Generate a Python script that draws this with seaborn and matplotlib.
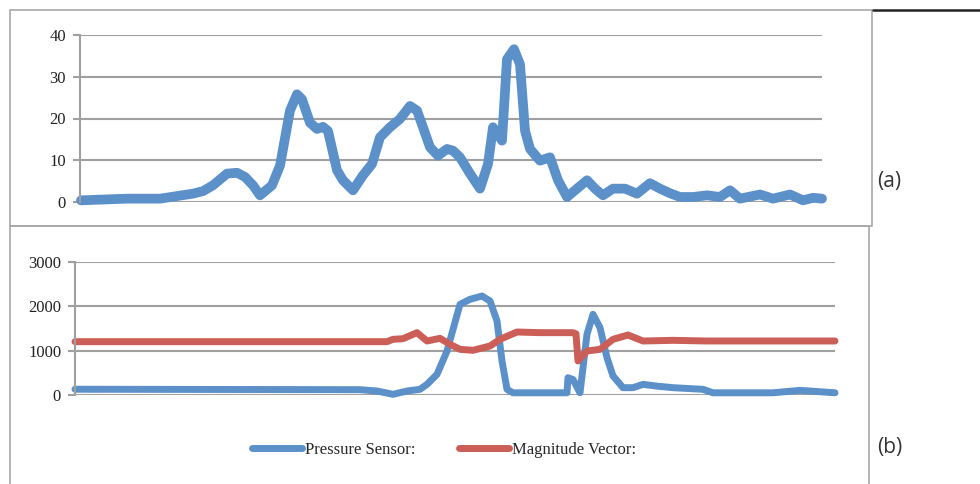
import numpy as np
import pandas as pd
import matplotlib
matplotlib.use("Agg")
import matplotlib.pyplot as plt
import seaborn as sns
from matplotlib.patches import Rectangle
from matplotlib.lines import Line2D

# panel (a): sample index and value
top_t = [1, 47, 80, 113, 123, 133, 147, 157, 165, 173, 180, 192, 200, 210, 217, 222,
         230, 237, 243, 248, 257, 263, 273, 283, 292, 300, 310, 320, 330, 337, 343,
         350, 358, 367, 373, 380, 390, 400, 408, 413, 422, 427, 434, 440, 445, 450,
         460, 470, 478, 487, 497, 507, 515, 523, 533, 545, 557, 570, 580, 590, 600,
         613, 627, 640, 650, 660, 680, 693, 710, 723, 733, 742]
top_val = [0.4, 0.8, 0.8, 2.0, 2.6, 4.0, 6.8, 7.0, 6.0, 4.0, 1.6, 4.0, 8.7, 21.9,
           25.8, 24.6, 19.0, 17.5, 18.0, 17.0, 7.6, 5.2, 2.8, 6.4, 9.1, 15.5, 17.9,
           19.9, 23.0, 21.9, 17.9, 13.1, 11.1, 12.7, 12.3, 10.7, 6.8, 3.2, 9.1, 17.9,
           14.7, 34.2, 36.6, 33.0, 17.1, 12.7, 9.9, 10.7, 5.2, 1.2, 3.2, 5.2, 3.2,
           1.6, 3.2, 3.2, 2.0, 4.5, 3.2, 2.1, 1.2, 1.2, 1.6, 1.2, 2.8, 0.8, 1.8, 0.8,
           1.8, 0.4, 1.0, 0.8]

# panel (b): sample index for each series
pres_t = [0, 285, 302, 318, 332, 345, 352, 362, 372, 385, 395, 407, 415, 422, 427,
          432, 438, 465, 492, 493, 498, 505, 512, 518, 525, 532, 538, 548, 558, 568,
          582, 598, 628, 638, 665, 698, 725, 760]
pres_val = [130, 120, 90, 15, 90, 128, 240, 466, 990, 2045, 2158, 2233, 2120, 1670,
            767, 128, 50, 50, 50, 390, 350, 50, 1370, 1820, 1520, 840, 430, 165, 165,
            240, 200, 165, 128, 50, 50, 50, 105, 50]
mag_t = [0, 312, 318, 328, 342, 352, 365, 375, 385, 398, 415, 425, 442, 465, 498,
         501, 503, 512, 525, 538, 553, 568, 598, 632, 760]
mag_val = [1203, 1203, 1256, 1270, 1406, 1218, 1278, 1143, 1030, 1008, 1105, 1256,
           1421, 1406, 1406, 1380, 767, 993, 1030, 1256, 1353, 1218, 1233, 1218, 1218]

blue = "#5B90C8"
red = "#CB5F57"
grid_c = "#A0A0A0"

top_df = pd.DataFrame({"t": top_t, "v": top_val})
pres_df = pd.DataFrame({"t": pres_t, "v": pres_val})
mag_df = pd.DataFrame({"t": mag_t, "v": mag_val})

sns.set_theme(style="white")
plt.rcParams["font.family"] = ["Liberation Serif", "DejaVu Serif"]

W, H = 980, 484
fig = plt.figure(figsize=(9.8, 4.84), dpi=100)


def px_axes(x0, y0, x1, y1):
    return fig.add_axes([x0 / W, 1 - y1 / H, (x1 - x0) / W, (y1 - y0) / H])


# outer frames
fig.patches.append(Rectangle((10 / W, 1 - 226 / H), 862 / W, 216 / H,
                             transform=fig.transFigure, fill=False,
                             edgecolor="#A8A8A8", lw=1.2))
fig.patches.append(Rectangle((10 / W, -0.05), 859 / W, 1 - 226 / H + 0.05,
                             transform=fig.transFigure, fill=False,
                             edgecolor="#A8A8A8", lw=1.2))
fig.lines.append(Line2D([873 / W, 1], [1 - 10 / H, 1 - 10 / H],
                        transform=fig.transFigure, color="#222222", lw=1.8))


def style(ax, ymax, step):
    ax.set_ylim(0, ymax)
    ax.set_yticks(np.arange(0, ymax + 1, step))
    ax.grid(axis="y", color=grid_c, lw=1.5)
    ax.set_axisbelow(True)
    for s in ["top", "right", "bottom"]:
        ax.spines[s].set_visible(False)
    ax.spines["left"].set_color(grid_c)
    ax.spines["left"].set_linewidth(1.5)
    ax.set_xticks([])
    ax.tick_params(axis="y", left=True, length=5, width=1.5, color=grid_c,
                   labelsize=12, labelcolor="#222222", pad=5)
    ax.set_xlabel("")
    ax.set_ylabel("")
    ax.set_facecolor("none")


ax1 = px_axes(80, 35, 822, 202)
sns.lineplot(data=top_df, x="t", y="v", ax=ax1, color=blue, lw=7,
             solid_capstyle="round", solid_joinstyle="round", clip_on=False)
ax1.set_xlim(0, 742)
style(ax1, 40, 10)

ax2 = px_axes(75, 262, 835, 395)
sns.lineplot(data=pres_df, x="t", y="v", ax=ax2, color=blue, lw=7,
             solid_capstyle="butt", solid_joinstyle="round", clip_on=False,
             label="Pressure Sensor:")
sns.lineplot(data=mag_df, x="t", y="v", ax=ax2, color=red, lw=7,
             solid_capstyle="butt", solid_joinstyle="round", clip_on=False,
             label="Magnitude Vector:")
ax2.set_xlim(0, 760)
style(ax2, 3000, 1000)
handles, labels = ax2.get_legend_handles_labels()
ax2.get_legend().remove()
for h in handles:
    h.set_solid_capstyle("round")
    h.set_linewidth(5)
fig.legend(handles, labels, loc="center", bbox_to_anchor=(444 / W, 1 - 450 / H),
           ncol=2, frameon=False, fontsize=12, handlelength=3.0,
           handletextpad=0.2, columnspacing=2.6)

fig.text(877 / W, 1 - 182 / H, "(a)", fontsize=15, va="center", ha="left",
         family=["Open Sans", "DejaVu Sans"], color="#333333")
fig.text(877 / W, 1 - 448 / H, "(b)", fontsize=15, va="center", ha="left",
         family=["Open Sans", "DejaVu Sans"], color="#333333")

fig.savefig("out.png", dpi=100)
